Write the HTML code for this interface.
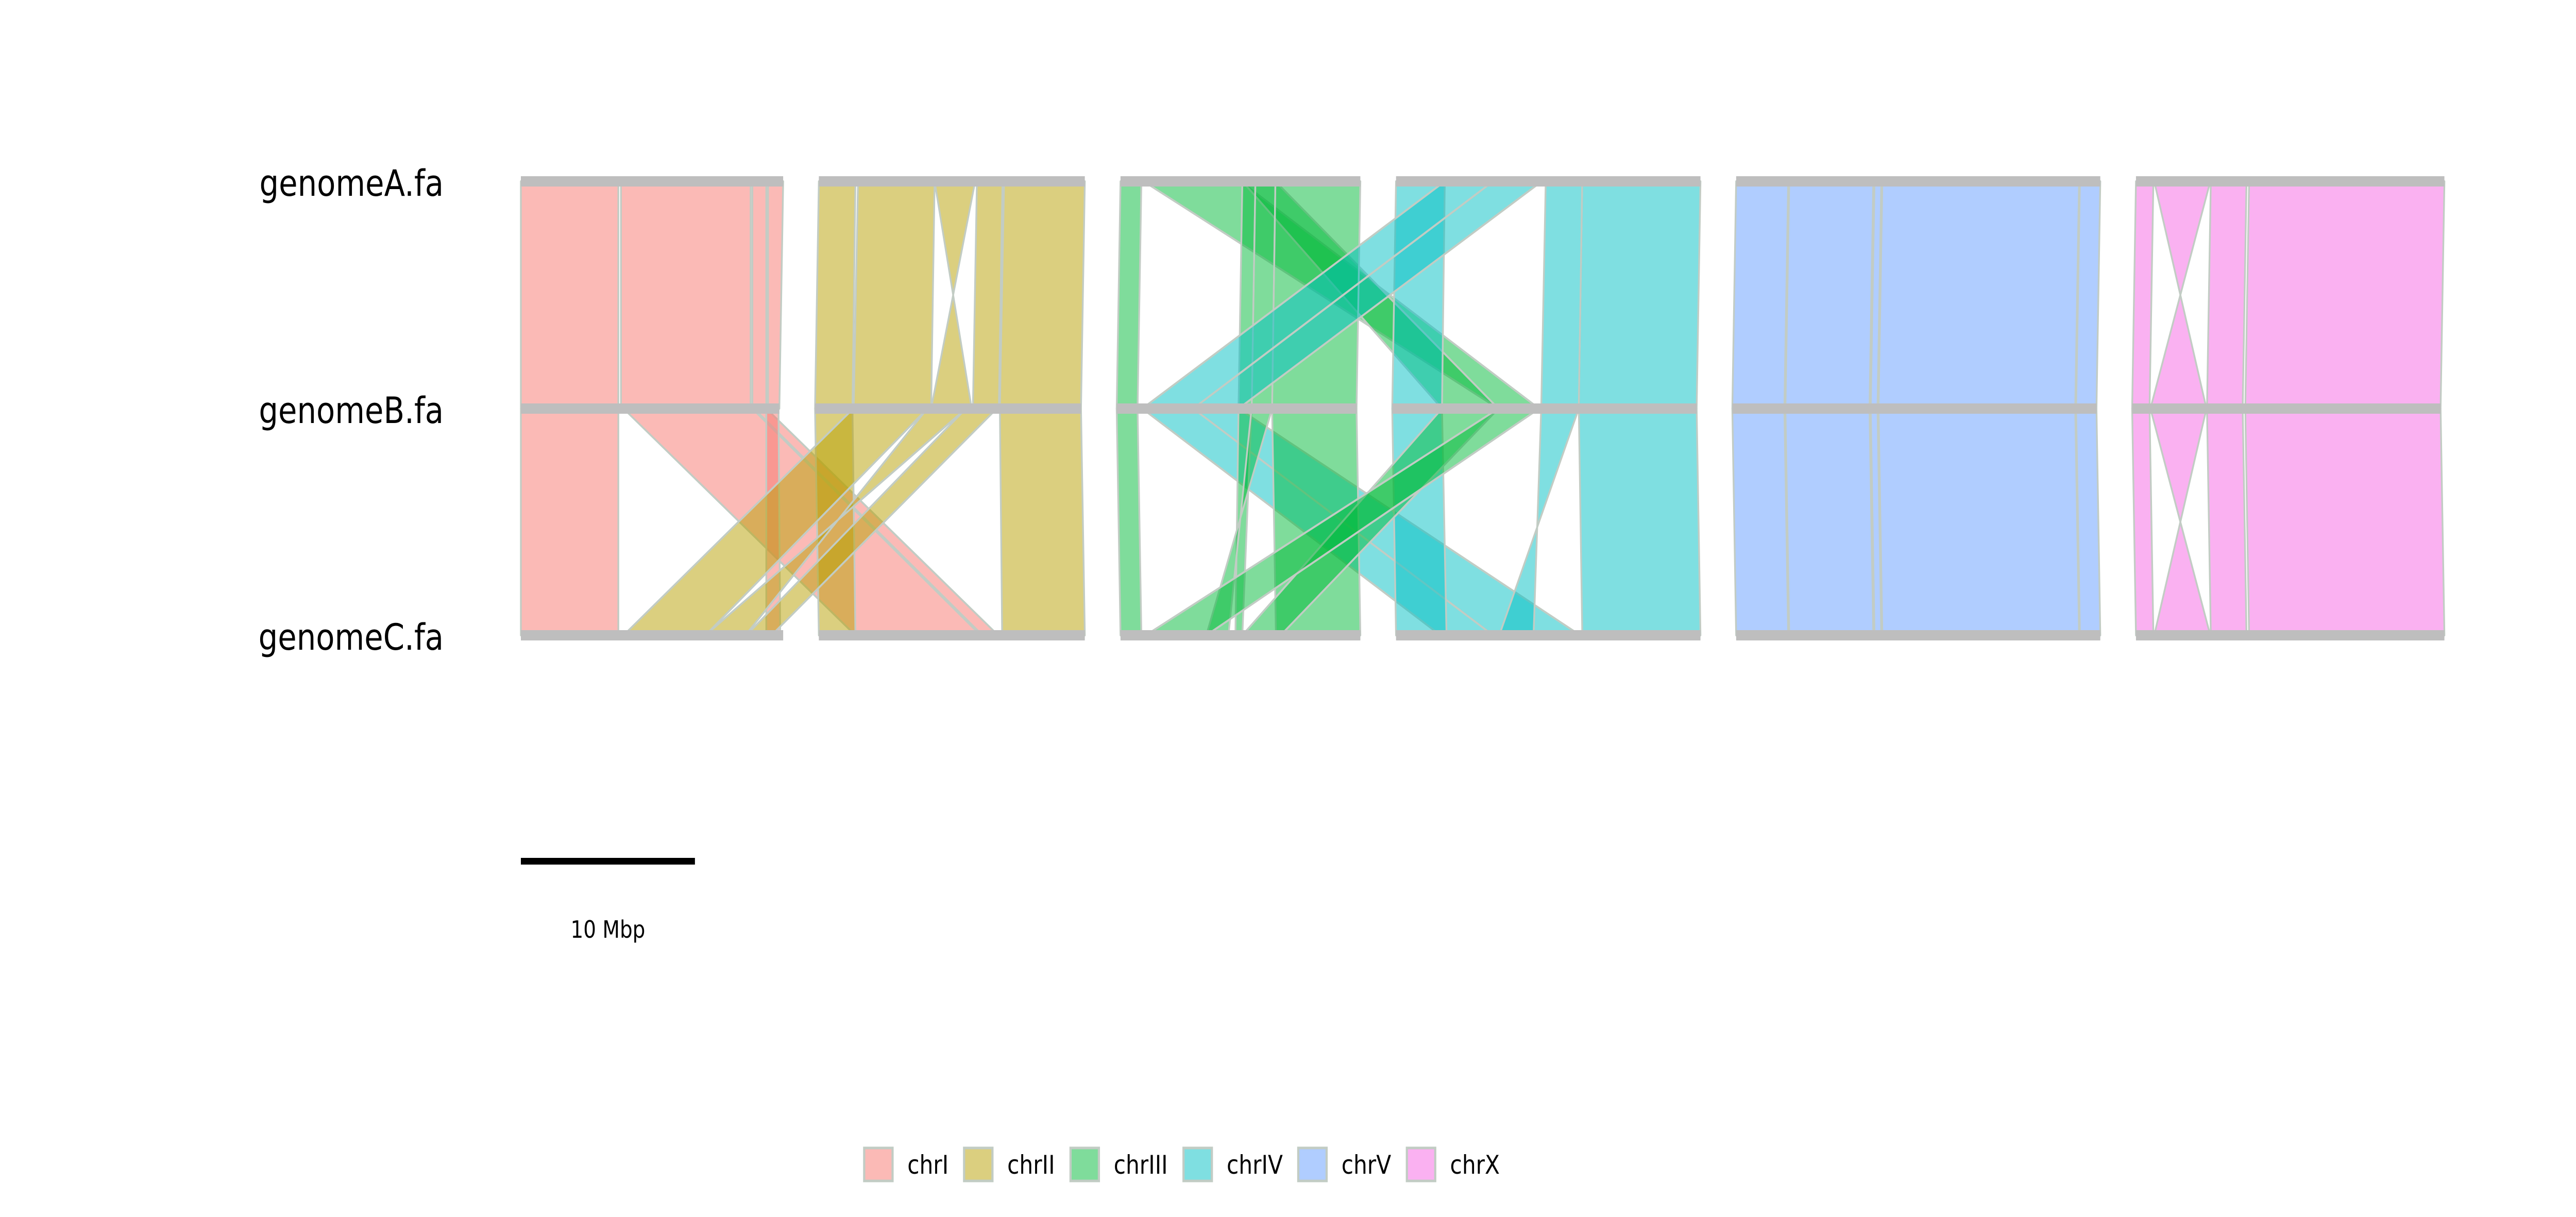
<!DOCTYPE html>
<html><head><meta charset="utf-8">
<style>
html,body{margin:0;padding:0;background:#fff;overflow:hidden;width:100%;height:100%;}
svg{display:block;width:100vw;height:100vh;font-family:"DejaVu Sans","Liberation Sans",sans-serif;}
</style></head>
<body>
<svg id="chart" viewBox="0 0 5905 2362" preserveAspectRatio="none" xmlns="http://www.w3.org/2000/svg">
<rect width="5905" height="2362" fill="#fff"/>
<g id="ribbons"></g>
<g id="bars"></g>
<g id="labels"></g>
<g id="scalebar"></g>
<g id="legend"></g>
</svg>
<script>
const genomes = ["genomeA.fa", "genomeB.fa", "genomeC.fa"];
const chromNames = ["chrI", "chrII", "chrIII", "chrIV", "chrV", "chrX"];
const chromColors = ["#F8766D", "#B79F00", "#00BA38", "#00BFC4", "#619CFF", "#F564E3"];
const lengthsA = [15.07, 15.28, 13.78, 17.49, 20.92, 17.72];
const lengthsB = [14.85, 15.28, 13.78, 17.49, 20.92, 17.72];
const lengthsC = [15.07, 15.28, 13.78, 17.49, 20.92, 17.72];
const scaleBarMbp = 10;
// links: [chrTop, startTop, endTop, chrBottom, startBottom, endBottom] (Mbp)
const linksAB = [
  [0,0,5.6,0,0,5.6],[0,5.75,13.2,0,5.75,13.2],[0,13.3,14.1,0,13.3,14.1],[0,14.2,15.07,0,14.2,14.85],
  [1,0,2.1,1,0,2.15],[1,2.25,6.65,1,2.22,6.67],[1,6.65,8.98,1,9.0,6.67],[1,9.08,10.55,1,9.07,10.56],[1,10.64,15.28,1,10.62,15.28],
  [2,0,1.2,2,0,1.2],[2,1.33,6.9,3,6.1,8.44],[2,7.0,8.9,3,2.86,6.1],[2,7.0,7.75,2,7.0,7.76],[2,7.75,8.9,2,7.76,8.93],[2,8.9,13.78,2,8.93,13.78],
  [3,0,2.8,3,0,2.86],[3,2.8,5.58,2,1.47,4.4],[3,5.58,8.37,2,4.4,7.0],[3,8.6,10.7,3,8.56,10.72],[3,10.7,17.49,3,10.72,17.49],
  [4,0,2.99,4,0,2.99],[4,3.05,7.88,4,3.05,7.88],[4,7.95,8.34,4,7.95,8.34],[4,8.4,19.7,4,8.4,19.7],[4,19.75,20.92,4,19.75,20.92],
  [5,0,1.0,5,0,1.0],[5,1.05,4.27,5,4.27,1.05],[5,4.3,6.35,5,4.3,6.35],[5,6.5,17.72,5,6.5,17.72]
];
const colorsAB = [0,0,0,0, 1,1,1,1,1, 2,2,2,2,2,2, 3,3,3,3,3, 4,4,4,4,4, 5,5,5,5];
const linksBC = [
  [0,0,5.6,0,0,5.6],[0,5.9,13.3,1,2.1,9.3],[0,13.4,14.1,1,9.4,10.3],[0,14.1,14.8,0,14.1,14.9],
  [1,0,2.15,1,0,2.1],[1,2.2,6.45,0,5.9,10.6],[1,6.45,8.67,0,12.9,10.6],[1,8.67,10.44,0,12.95,14.4],[1,10.62,15.28,1,10.53,15.28],
  [2,0,1.2,2,0,1.2],[2,1.47,4.4,3,2.56,5.58],[2,4.4,7.0,3,5.58,10.58],[2,7.0,7.75,2,6.6,7.0],[2,7.75,8.93,2,6.2,4.93],[2,8.93,13.78,2,8.93,13.78],
  [3,0,2.86,3,0,2.9],[3,2.86,6.1,2,7.0,9.2],[3,6.1,8.44,2,1.45,4.93],[3,8.56,10.72,3,7.9,5.93],[3,10.72,17.49,3,10.7,17.49],
  [4,0,2.99,4,0,2.99],[4,3.05,7.88,4,3.05,7.88],[4,7.95,8.34,4,7.95,8.34],[4,8.4,19.7,4,8.4,19.7],[4,19.75,20.92,4,19.75,20.92],
  [5,0,1.0,5,0,1.0],[5,1.05,4.27,5,4.27,1.05],[5,4.3,6.35,5,4.3,6.35],[5,6.5,17.72,5,6.5,17.72]
];
const colorsBC = [0,0,0,0, 1,1,1,1,1, 2,3,3,2,2,2, 3,2,2,3,3, 4,4,4,4,4, 5,5,5,5];

const NS = "http://www.w3.org/2000/svg";
const X0 = 1194, PX_PER_MBP = 39.9, GAP = 2.05;
const ROW_Y = [352, 793, 1233], BAR_H = 20;
const allLengths = [lengthsA, lengthsB, lengthsC];

function chromStart(g, c) {
  let off = 0;
  for (let i = 0; i < c; i++) off += allLengths[g][i] + GAP;
  return off;
}
function xPos(g, c, mbp) { return X0 + (chromStart(g, c) + mbp) * PX_PER_MBP; }
function mk(tag, attrs, parent) {
  const e = document.createElementNS(NS, tag);
  for (const k in attrs) e.setAttribute(k, attrs[k]);
  parent.appendChild(e);
  return e;
}

const ribG = document.getElementById("ribbons");
function drawLinks(links, cols, gTop) {
  links.forEach((l, i) => {
    const yt = ROW_Y[gTop], yb = ROW_Y[gTop + 1];
    const x1 = xPos(gTop, l[0], l[1]), x2 = xPos(gTop, l[0], l[2]);
    const x3 = xPos(gTop + 1, l[3], l[5]), x4 = xPos(gTop + 1, l[3], l[4]);
    const p = mk("polygon", {
      points: `${x1},${yt} ${x2},${yt} ${x3},${yb} ${x4},${yb}`,
      fill: chromColors[cols[i]], "fill-opacity": 0.5,
      stroke: "#c2ccc4", "stroke-width": 4, "stroke-linejoin": "round"
    }, ribG);
    
    
  });
}
drawLinks(linksAB, colorsAB, 0);
drawLinks(linksBC, colorsBC, 1);

const barG = document.getElementById("bars");
genomes.forEach((gname, g) => {
  allLengths[g].forEach((len, c) => {
    const r = mk("rect", {
      x: xPos(g, c, 0), y: ROW_Y[g] - BAR_H / 2,
      width: len * PX_PER_MBP, height: BAR_H, fill: "#bebebe"
    }, barG);
    
    
  });
});

const labG = document.getElementById("labels");
genomes.forEach((gname, g) => {
  const t = mk("text", { x: 1017, y: ROW_Y[g] + 28, "text-anchor": "end", "font-size": 70, fill: "#000" }, labG);
  t.textContent = gname;
  
  
});

const sbG = document.getElementById("scalebar");
const sb = mk("rect", { x: X0, y: 1665, width: scaleBarMbp * PX_PER_MBP, height: 13, fill: "#000" }, sbG);


const sbt = mk("text", { x: X0 + scaleBarMbp * PX_PER_MBP / 2, y: 1820, "text-anchor": "middle", "font-size": 46, fill: "#000" }, sbG);
sbt.textContent = scaleBarMbp + " Mbp";



const legG = document.getElementById("legend");
const legBoxX = [1979, 2208, 2452, 2711, 2974, 3223];
chromNames.forEach((nm, i) => {
  const b = mk("rect", { x: legBoxX[i] + 2, y: 2228, width: 65, height: 64, fill: chromColors[i], "fill-opacity": 0.5, stroke: "#c2ccc4", "stroke-width": 5 }, legG);
  
  
  const t = mk("text", { x: legBoxX[i] + 101, y: 2278, "font-size": 50, fill: "#000" }, legG);
  t.textContent = nm;
  
  
});
</script>
</body></html>
